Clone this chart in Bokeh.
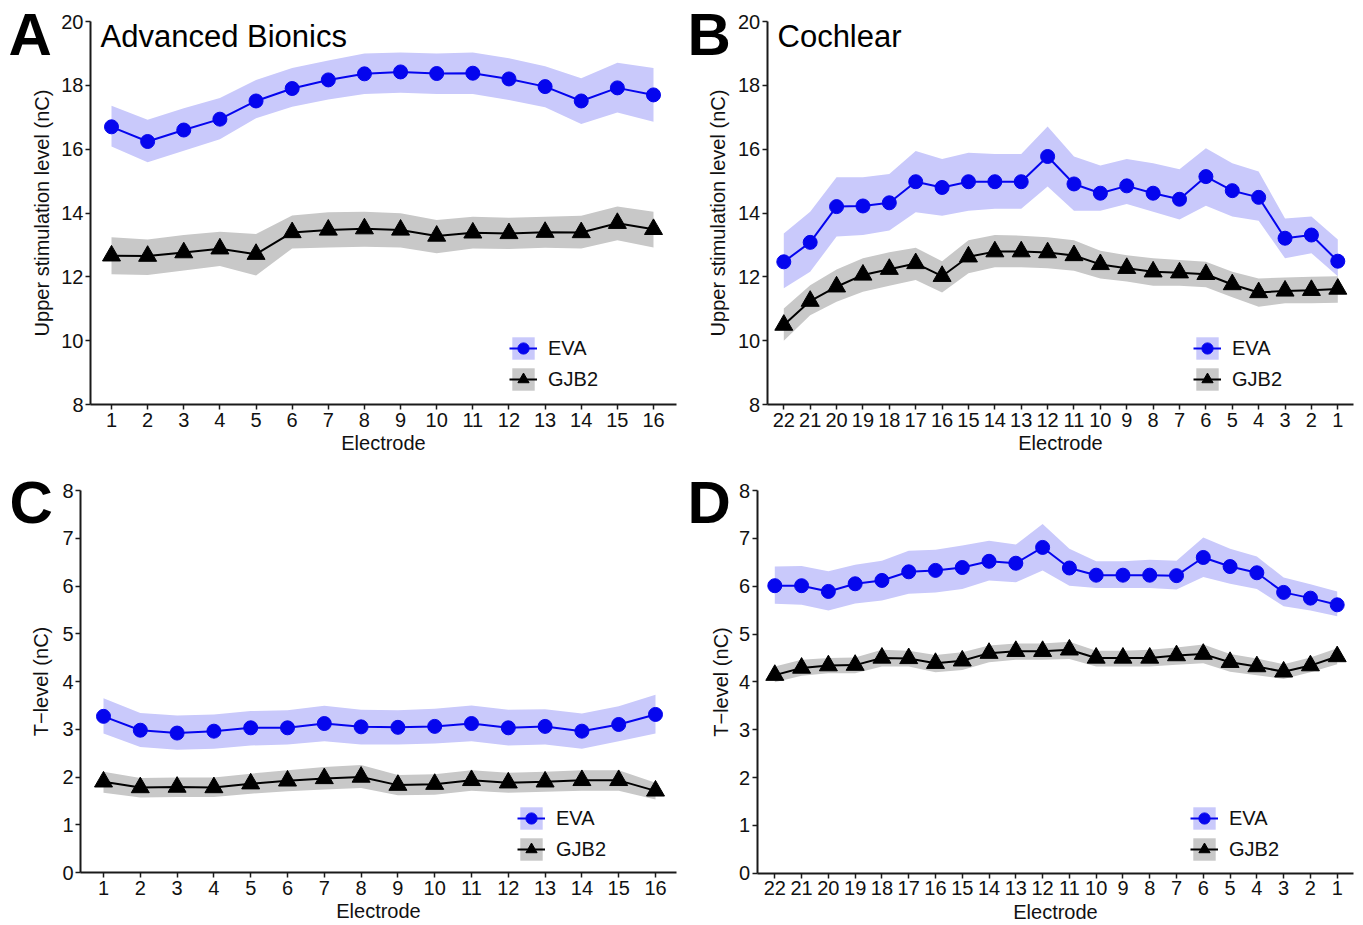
from bokeh.plotting import figure
from bokeh.models import Range1d, Legend, LegendItem, Label, FixedTicker
from bokeh.layouts import row, column
from bokeh.embed import file_html
from bokeh.resources import INLINE

# ---------------- data ----------------
ab_electrodes = [str(i) for i in range(1, 17)]
co_electrodes = [str(i) for i in range(22, 0, -1)]

usl_ticks = [8, 10, 12, 14, 16, 18, 20]
t_ticks = [0, 1, 2, 3, 4, 5, 6, 7, 8]

# Panel A: Advanced Bionics, upper stimulation level (nC)
a_eva = [16.70, 16.24, 16.60, 16.94, 17.51, 17.90, 18.17, 18.36, 18.42, 18.37, 18.38, 18.20, 17.96, 17.51, 17.92, 17.70]
a_eva_hi = [17.36, 16.92, 17.28, 17.60, 18.17, 18.54, 18.78, 19.00, 19.03, 19.00, 19.03, 18.85, 18.60, 18.22, 18.71, 18.54]
a_eva_lo = [16.08, 15.59, 15.95, 16.31, 16.97, 17.33, 17.56, 17.73, 17.77, 17.73, 17.73, 17.54, 17.31, 16.79, 17.15, 16.86]
a_gjb = [12.66, 12.65, 12.76, 12.88, 12.71, 13.39, 13.47, 13.51, 13.47, 13.28, 13.38, 13.36, 13.40, 13.39, 13.68, 13.49]
a_gjb_hi = [13.24, 13.17, 13.31, 13.41, 13.34, 13.92, 14.02, 14.04, 13.99, 13.78, 13.88, 13.85, 13.88, 13.91, 14.20, 14.04]
a_gjb_lo = [12.08, 12.06, 12.20, 12.34, 12.04, 12.89, 12.92, 12.94, 12.92, 12.74, 12.89, 12.87, 12.91, 12.89, 13.15, 12.92]

# Panel B: Cochlear, upper stimulation level (nC), electrodes 22 -> 1
b_eva = [12.47, 13.08, 14.20, 14.22, 14.32, 14.98, 14.80, 14.98, 14.98, 14.98, 15.77, 14.91, 14.62, 14.85, 14.62, 14.43, 15.14, 14.70, 14.49, 13.21, 13.31, 12.49]
b_eva_hi = [13.36, 14.04, 15.12, 15.12, 15.22, 15.94, 15.69, 15.89, 15.85, 15.85, 16.71, 15.77, 15.49, 15.69, 15.56, 15.37, 16.03, 15.56, 15.30, 13.83, 13.89, 13.17]
b_eva_lo = [11.64, 12.16, 13.26, 13.31, 13.45, 14.02, 13.91, 14.07, 14.13, 14.13, 14.83, 14.07, 14.07, 14.28, 14.04, 13.80, 14.23, 13.89, 13.76, 12.58, 12.74, 12.02]
b_gjb = [10.49, 11.24, 11.69, 12.06, 12.24, 12.42, 12.02, 12.63, 12.79, 12.79, 12.76, 12.67, 12.39, 12.27, 12.16, 12.13, 12.08, 11.76, 11.51, 11.56, 11.58, 11.62]
b_gjb_hi = [11.01, 11.74, 12.23, 12.58, 12.77, 12.91, 12.49, 13.15, 13.31, 13.29, 13.24, 13.15, 12.82, 12.68, 12.58, 12.53, 12.47, 12.16, 11.95, 11.98, 12.00, 12.02]
b_gjb_lo = [10.00, 10.80, 11.22, 11.53, 11.72, 11.90, 11.51, 12.11, 12.30, 12.30, 12.27, 12.19, 11.95, 11.85, 11.72, 11.72, 11.67, 11.36, 11.06, 11.17, 11.17, 11.19]

# Panel C: Advanced Bionics, T-level (nC)
c_eva = [3.27, 2.98, 2.92, 2.96, 3.03, 3.03, 3.12, 3.05, 3.04, 3.06, 3.12, 3.03, 3.06, 2.96, 3.10, 3.31]
c_eva_hi = [3.65, 3.34, 3.29, 3.31, 3.38, 3.40, 3.49, 3.41, 3.40, 3.43, 3.50, 3.41, 3.42, 3.33, 3.48, 3.72]
c_eva_lo = [2.91, 2.63, 2.57, 2.59, 2.66, 2.68, 2.75, 2.68, 2.68, 2.70, 2.75, 2.66, 2.68, 2.59, 2.75, 2.91]
c_gjb = [1.90, 1.78, 1.79, 1.78, 1.86, 1.92, 1.97, 2.00, 1.83, 1.85, 1.93, 1.88, 1.90, 1.93, 1.93, 1.71]
c_gjb_hi = [2.11, 1.98, 1.99, 1.99, 2.07, 2.14, 2.21, 2.25, 2.04, 2.06, 2.14, 2.09, 2.11, 2.14, 2.14, 1.88]
c_gjb_lo = [1.67, 1.57, 1.58, 1.58, 1.65, 1.70, 1.74, 1.77, 1.62, 1.63, 1.71, 1.67, 1.69, 1.71, 1.71, 1.53]

# Panel D: Cochlear, T-level (nC), electrodes 22 -> 1
d_eva = [6.01, 6.01, 5.89, 6.05, 6.12, 6.30, 6.33, 6.39, 6.52, 6.48, 6.81, 6.38, 6.23, 6.23, 6.23, 6.22, 6.60, 6.41, 6.28, 5.87, 5.75, 5.61]
d_eva_hi = [6.41, 6.42, 6.31, 6.45, 6.53, 6.74, 6.76, 6.85, 6.95, 6.87, 7.30, 6.78, 6.52, 6.52, 6.55, 6.53, 7.02, 6.78, 6.62, 6.18, 6.04, 5.89]
d_eva_lo = [5.63, 5.61, 5.49, 5.64, 5.70, 5.84, 5.87, 5.94, 6.12, 6.08, 6.33, 6.01, 5.96, 5.96, 5.96, 5.93, 6.19, 6.05, 5.94, 5.58, 5.49, 5.37]
d_gjb = [4.14, 4.29, 4.34, 4.35, 4.50, 4.49, 4.39, 4.44, 4.60, 4.64, 4.64, 4.67, 4.50, 4.50, 4.50, 4.55, 4.58, 4.41, 4.32, 4.21, 4.34, 4.53]
d_gjb_hi = [4.32, 4.46, 4.50, 4.51, 4.67, 4.65, 4.56, 4.62, 4.76, 4.80, 4.80, 4.84, 4.65, 4.65, 4.67, 4.72, 4.78, 4.58, 4.49, 4.37, 4.51, 4.70]
d_gjb_lo = [3.99, 4.13, 4.18, 4.18, 4.32, 4.32, 4.20, 4.25, 4.41, 4.46, 4.46, 4.48, 4.32, 4.32, 4.32, 4.36, 4.39, 4.21, 4.14, 4.06, 4.20, 4.37]

series_names = ["EVA", "GJB2"]

# ---------------- styling ----------------
FONT = "Liberation Sans"
EVA_COLOR = "#0505ee"
EVA_BAND = "#c9c9fb"
GJB_COLOR = "#000000"
GJB_BAND = "#c8c8c8"
AXIS_COLOR = "#1a1a1a"
TEXT_COLOR = "#111111"


def lin(p1, v1, p2, v2):
    k = (v2 - v1) / (p2 - p1)
    return lambda px: v1 + (px - p1) * k


def make_panel(letter, title, labels, eva, eva_lo, eva_hi, gjb, gjb_lo, gjb_hi,
               yticks, ylabel, width, height, geo, legend_loc, letter_xy, title_xy,
               ylabel_standoff):
    # geo: pixel geometry of the axes inside the figure (layout, not data)
    axis_px, first_px, last_px, end_px, top_px, bottom_px = geo
    pos = list(range(1, len(labels) + 1))
    fx = lin(first_px, pos[0], last_px, pos[-1])
    fy = lin(top_px, yticks[-1], bottom_px, yticks[0])

    p = figure(width=width, height=height,
               x_range=Range1d(fx(0), fx(width)), y_range=Range1d(fy(height), fy(0)),
               output_backend="svg", toolbar_location=None,
               min_border_left=0, min_border_right=0, min_border_top=0, min_border_bottom=0)
    p.outline_line_color = None
    p.xgrid.grid_line_color = None
    p.ygrid.grid_line_color = None
    p.background_fill_color = "white"
    p.border_fill_color = "white"

    band_e = p.varea(x=pos, y1=eva_lo, y2=eva_hi, fill_color=EVA_BAND, fill_alpha=1.0)
    band_g = p.varea(x=pos, y1=gjb_lo, y2=gjb_hi, fill_color=GJB_BAND, fill_alpha=1.0)
    line_e = p.line(x=pos, y=eva, line_color=EVA_COLOR, line_width=2)
    sc_e = p.scatter(x=pos, y=eva, marker="circle", size=14,
                     fill_color=EVA_COLOR, line_color=EVA_COLOR)
    line_g = p.line(x=pos, y=gjb, line_color=GJB_COLOR, line_width=2)
    sc_g = p.scatter(x=pos, y=gjb, marker="triangle", size=18,
                     fill_color=GJB_COLOR, line_color=GJB_COLOR)

    xaxis = p.xaxis[0]
    yaxis = p.yaxis[0]
    for ax in (xaxis, yaxis):
        ax.axis_line_color = AXIS_COLOR
        ax.axis_line_width = 2
        ax.major_tick_line_color = AXIS_COLOR
        ax.major_tick_line_width = 1.5
        ax.major_tick_out = 5
        ax.major_tick_in = 0
        ax.minor_tick_line_color = None
        ax.major_label_text_font = FONT
        ax.major_label_text_font_size = "20px"
        ax.major_label_text_color = TEXT_COLOR
        ax.axis_label_text_font = FONT
        ax.axis_label_text_font_size = "20px"
        ax.axis_label_text_font_style = "normal"
        ax.axis_label_text_color = TEXT_COLOR

    yaxis.fixed_location = fx(axis_px)
    yaxis.bounds = (yticks[0], yticks[-1])
    yaxis.ticker = FixedTicker(ticks=yticks)
    yaxis.major_label_standoff = 2
    yaxis.axis_label = ylabel
    yaxis.axis_label_standoff = ylabel_standoff

    xaxis.fixed_location = yticks[0]
    xaxis.bounds = (fx(axis_px), fx(end_px))
    xaxis.ticker = FixedTicker(ticks=pos)
    xaxis.major_label_overrides = {x: lab for x, lab in zip(pos, labels)}
    xaxis.major_label_standoff = 3
    xaxis.axis_label = "Electrode"
    xaxis.axis_label_standoff = 2

    legend = Legend(items=[LegendItem(label=series_names[0], renderers=[band_e, line_e, sc_e]),
                           LegendItem(label=series_names[1], renderers=[band_g, line_g, sc_g])],
                    location=legend_loc, glyph_width=28, glyph_height=28, spacing=3,
                    padding=0, margin=0, border_line_color=None, background_fill_alpha=0,
                    label_text_font=FONT, label_text_font_size="20px", label_standoff=11,
                    label_text_color=TEXT_COLOR,
                    label_height=28, label_text_baseline="middle")
    p.add_layout(legend)

    p.add_layout(Label(x=letter_xy[0], y=height - letter_xy[1], x_units="screen", y_units="screen",
                       text=letter, text_font=FONT, text_font_size="60px",
                       text_font_style="bold", text_color="black",
                       text_baseline="alphabetic"))
    if title:
        p.add_layout(Label(x=title_xy[0], y=height - title_xy[1], x_units="screen", y_units="screen",
                           text=title, text_font=FONT, text_font_size="31px",
                           text_color="black", text_baseline="alphabetic"))
    return p


pA = make_panel("A", "Advanced Bionics", ab_electrodes,
                a_eva, a_eva_lo, a_eva_hi, a_gjb, a_gjb_lo, a_gjb_hi,
                usl_ticks, "Upper stimulation level (nC)", 680, 460,
                (90, 111, 653, 676, 21, 404), (509, 67), (8, 34), (100, 36), 5)
pB = make_panel("B", "Cochlear", co_electrodes,
                b_eva, b_eva_lo, b_eva_hi, b_gjb, b_gjb_lo, b_gjb_hi,
                usl_ticks, "Upper stimulation level (nC)", 683, 460,
                (86.7, 103.3, 657.3, 673.3, 21, 404), (513, 67), (7, 34), (97, 36), 6)
pC = make_panel("C", None, ab_electrodes,
                c_eva, c_eva_lo, c_eva_hi, c_gjb, c_gjb_lo, c_gjb_hi,
                t_ticks, "T\u2212level (nC)", 680, 465,
                (80, 103, 655, 676, 30, 412), (517, 62), (9, 42), (0, 0), 7)
pD = make_panel("D", None, co_electrodes,
                d_eva, d_eva_lo, d_eva_hi, d_gjb, d_gjb_lo, d_gjb_hi,
                t_ticks, "T\u2212level (nC)", 683, 465,
                (76.7, 94.3, 656.7, 673.3, 30, 412.7), (510, 62), (7, 42), (0, 0), 4)

layout = column(row(pA, pB), row(pC, pD))

with open("out.html", "w") as f:
    f.write(file_html(layout, INLINE))
